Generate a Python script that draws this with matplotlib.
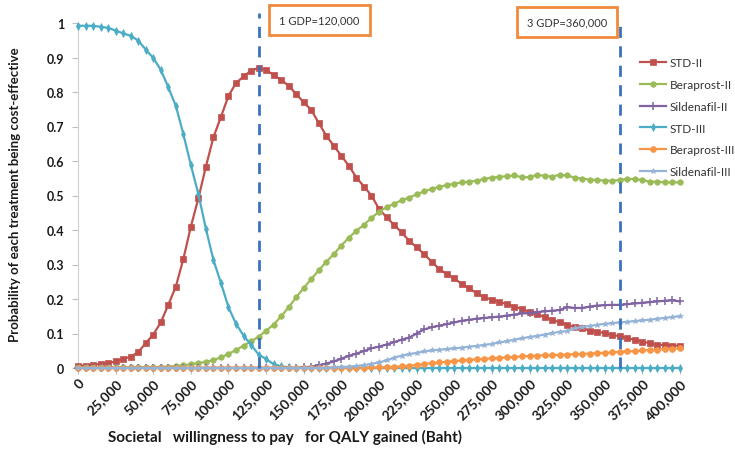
import matplotlib.pyplot as plt
import matplotlib.patches as patches
import numpy as np

# willingness to pay grid, 0 .. 400,000 Baht in steps of 5,000
wtp = np.arange(0, 400001, 5000)

std_ii = [0.007, 0.007, 0.009, 0.012, 0.014, 0.019, 0.026, 0.033, 0.046, 0.072,
          0.097, 0.132, 0.183, 0.236, 0.316, 0.410, 0.492, 0.584, 0.669, 0.728,
          0.789, 0.826, 0.845, 0.862, 0.870, 0.864, 0.849, 0.835, 0.818, 0.794,
          0.770, 0.748, 0.710, 0.673, 0.644, 0.615, 0.586, 0.552, 0.526, 0.500,
          0.461, 0.437, 0.415, 0.393, 0.369, 0.350, 0.330, 0.308, 0.287, 0.272,
          0.260, 0.243, 0.231, 0.216, 0.205, 0.198, 0.192, 0.185, 0.178, 0.171,
          0.163, 0.157, 0.147, 0.140, 0.132, 0.126, 0.118, 0.116, 0.108, 0.105,
          0.101, 0.096, 0.092, 0.086, 0.082, 0.076, 0.072, 0.067, 0.067, 0.065,
          0.065]

beraprost_ii = [0.002, 0.002, 0.002, 0.002, 0.002, 0.002, 0.002, 0.002, 0.002, 0.002,
                0.002, 0.003, 0.004, 0.006, 0.008, 0.011, 0.014, 0.018, 0.023, 0.031,
                0.041, 0.052, 0.065, 0.077, 0.091, 0.108, 0.126, 0.150, 0.176, 0.205,
                0.232, 0.258, 0.283, 0.308, 0.330, 0.355, 0.378, 0.398, 0.415, 0.435,
                0.453, 0.466, 0.476, 0.486, 0.494, 0.503, 0.512, 0.519, 0.525, 0.530,
                0.534, 0.538, 0.540, 0.543, 0.548, 0.552, 0.554, 0.556, 0.558, 0.553,
                0.553, 0.560, 0.557, 0.555, 0.560, 0.558, 0.552, 0.549, 0.546, 0.545,
                0.543, 0.543, 0.545, 0.548, 0.548, 0.545, 0.540, 0.540, 0.538, 0.538,
                0.538]

sildenafil_ii = [0.0] * 30 + [
                 0.002, 0.004, 0.008, 0.013, 0.019, 0.027, 0.035, 0.042, 0.049, 0.057,
                 0.062, 0.068, 0.075, 0.082, 0.088, 0.100, 0.112, 0.118, 0.123, 0.127,
                 0.132, 0.137, 0.140, 0.143, 0.145, 0.147, 0.149, 0.152, 0.155, 0.158,
                 0.159, 0.162, 0.164, 0.166, 0.168, 0.176, 0.174, 0.174, 0.178, 0.181,
                 0.182, 0.183, 0.183, 0.185, 0.187, 0.189, 0.191, 0.193, 0.195, 0.196,
                 0.193]

std_iii = [0.992, 0.992, 0.992, 0.989, 0.986, 0.978, 0.970, 0.963, 0.949, 0.923,
           0.899, 0.864, 0.814, 0.760, 0.678, 0.588, 0.504, 0.403, 0.313, 0.246,
           0.176, 0.128, 0.094, 0.067, 0.039, 0.026, 0.011, 0.005, 0.002] + [0.0] * 52

beraprost_iii = [0.001] * 39 + [
                 0.002, 0.002, 0.002, 0.003, 0.005, 0.007, 0.009, 0.012, 0.014, 0.016,
                 0.018, 0.020, 0.022, 0.024, 0.025, 0.027, 0.028, 0.029, 0.031, 0.032,
                 0.034, 0.035, 0.036, 0.037, 0.037, 0.038, 0.039, 0.040, 0.041, 0.042,
                 0.043, 0.044, 0.045, 0.047, 0.048, 0.049, 0.051, 0.052, 0.053, 0.055,
                 0.056, 0.057]

sildenafil_iii = [0.0] * 34 + [
                  0.002, 0.003, 0.004, 0.006, 0.008, 0.012, 0.016, 0.022, 0.030, 0.036,
                  0.040, 0.044, 0.048, 0.051, 0.053, 0.055, 0.057, 0.059, 0.062, 0.064,
                  0.067, 0.070, 0.074, 0.078, 0.082, 0.086, 0.090, 0.093, 0.097, 0.101,
                  0.105, 0.107, 0.115, 0.119, 0.122, 0.125, 0.128, 0.130, 0.132, 0.134,
                  0.136, 0.138, 0.140, 0.143, 0.145, 0.148, 0.150]

gdp_lines = [120000, 360000]
gdp_labels = ["1 GDP=120,000", "3 GDP=360,000"]

series = [
    ("STD-II", std_ii, "#C0504D", "s", 4.2),
    ("Beraprost-II", beraprost_ii, "#9BBB59", "o", 4),
    ("Sildenafil-II", sildenafil_ii, "#8064A2", "+", 6),
    ("STD-III", std_iii, "#4BACC6", "d", 3.8),
    ("Beraprost-III", beraprost_iii, "#F79646", "o", 4.2),
    ("Sildenafil-III", sildenafil_iii, "#95B3D7", "*", 4.2),
]

plt.rcParams['font.family'] = ['Lato', 'DejaVu Sans']

fig = plt.figure(figsize=(7.35, 4.52), dpi=100)
ax = fig.add_axes([78 / 735, 1 - 369 / 452, 602 / 735, 345 / 452])

for name, vals, col, mk, ms in series:
    ax.plot(wtp, vals, color=col, marker=mk, markersize=ms, linewidth=1.6,
            markeredgewidth=1.1 if mk == "+" else 0.5, label=name, clip_on=False, zorder=3)

# dashed GDP thresholds, running a little above the plot area
for xv, top in zip(gdp_lines, [1.03, 1.015]):
    ax.plot([xv, xv], [0, top], color="#3A72C0", linestyle=(0, (4, 3)), linewidth=2,
            clip_on=False, zorder=4)

ax.set_xlim(0, 400000)
ax.set_ylim(0, 1)
xt = np.arange(0, 400001, 25000)
ax.set_xticks(xt)
ax.set_xticklabels(["0"] + [f"{v:,}" for v in xt[1:]], rotation=45, ha="right",
                   rotation_mode="anchor", fontsize=10, fontweight="bold", color="#1a1a1a")
yt = np.round(np.arange(0, 1.01, 0.1), 1)
ax.set_yticks(yt)
ax.set_yticklabels(["0"] + [f"{v:g}" for v in yt[1:-1]] + ["1"], fontsize=9,
                   fontweight="bold", color="#1a1a1a")
ax.tick_params(axis="both", length=4, color="#BFBFBF", width=0.8)
ax.tick_params(axis="x", pad=2)
ax.tick_params(axis="y", pad=6)
for s in ["top", "right"]:
    ax.spines[s].set_visible(False)
for s in ["left", "bottom"]:
    ax.spines[s].set_color("#D0D0D0")
    ax.spines[s].set_linewidth(0.8)

fig.text(285 / 735, 1 - 437 / 452, "Societal   willingness to pay   for QALY gained (Baht)",
         ha="center", va="center", fontsize=11, fontweight="bold", color="#1a1a1a")
fig.text(15 / 735, 1 - 195 / 452, "Probability of each treatment being cost-effective",
         ha="center", va="center", rotation=90, fontsize=9.5, fontweight="bold", color="#1a1a1a")

# threshold label boxes
boxes = [(269, 6, 101, 30), (517, 8, 100, 30)]
for (bx, by, bw, bh), txt in zip(boxes, gdp_labels):
    r = patches.Rectangle((bx / 735, 1 - (by + bh) / 452), bw / 735, bh / 452,
                          transform=fig.transFigure, facecolor="white",
                          edgecolor="#F08A3C", linewidth=2, zorder=5)
    fig.add_artist(r)
    fig.text((bx + bw / 2) / 735, 1 - (by + bh / 2) / 452, txt, ha="center", va="center",
             fontsize=8, color="#333333", zorder=6)

ax.legend(loc="upper left", bbox_to_anchor=(640 / 735, 1 - 58 / 452),
          bbox_transform=fig.transFigure, frameon=False, fontsize=8.5, labelspacing=0.92,
          handlelength=2.2, handletextpad=0.3, borderpad=0, borderaxespad=0,
          numpoints=1, labelcolor="#333333")

fig.savefig("out.png", dpi=100)
